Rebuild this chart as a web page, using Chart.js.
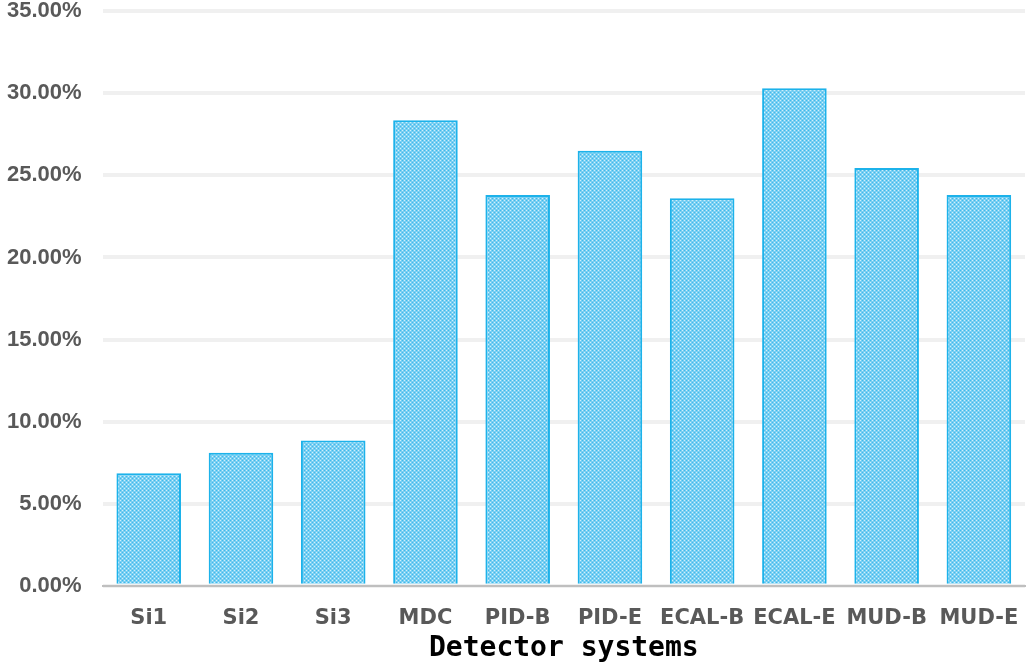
<!DOCTYPE html>
<html>
	<head>
		<title>Detector systems</title>
		<style type="text/css">
			body{ margin:0; background:#fff; overflow:hidden; }
			#chart-container{ width:1026px; height:663px; overflow:hidden; }
			#mycanvas{ margin-top:-4px; }
		</style>
	</head>
	<body>
		<script type="text/javascript" src="https://cdn.jsdelivr.net/npm/chart.js@4/dist/chart.umd.min.js"></script>

		<div id="chart-container">
			<canvas id="mycanvas" width="1026" height="667"></canvas>
		</div>

		<script type="text/javascript">
			var detectors=['Si1','Si2','Si3','MDC','PID-B','PID-E','ECAL-B','ECAL-E','MUD-B','MUD-E'];
			var fractions=[6.85, 8.1, 8.85, 28.35, 23.8, 26.5, 23.6, 30.3, 25.45, 23.8];
			var yTicks=[0,5,10,15,20,25,30,35];

			//small dotted fill, like the hatched bars of the original
			function makePattern(){
				var p=document.createElement('canvas');
				p.width=4; p.height=4;
				var c=p.getContext('2d');
				c.fillStyle='#7acff2';
				c.fillRect(0,0,4,4);
				c.fillStyle='#d0effc';
				c.fillRect(0,0,1,1);
				c.fillRect(2,2,1,1);
				c.fillStyle='#3dbaed';
				c.fillRect(2,0,1,1);
				c.fillRect(0,2,1,1);
				return c.createPattern(p,'repeat');
			}

			var ctx=document.getElementById('mycanvas');
			var barGraph=new Chart(ctx,{
				type:'bar',
				data:{
					labels:detectors,
					datasets:[{
						data:fractions,
						backgroundColor:makePattern(),
						borderColor:'#1cb2ea',
						borderWidth:2,
						barPercentage:0.70,
						categoryPercentage:1.0
					}]
				},
				options:{
					responsive:false,
					animation:false,
					layout:{ padding:{ top:0, right:1, left:5, bottom:0 } },
					plugins:{ legend:{ display:false }, tooltip:{ enabled:false } },
					scales:{
						x:{
							// invisible tick marks push the labels down without widening the side padding
							grid:{ display:false, drawTicks:true, tickLength:18, tickColor:'transparent' },
							border:{ display:true, color:'#bfbfbf', width:2 },
							ticks:{
								color:'#595959', padding:2, maxRotation:0, autoSkip:false,
								font:{ family:'DejaVu Sans', size:21, weight:'bold' }
							},
							title:{
								display:true, text:'Detector systems', color:'#000',
								padding:{ top:2, bottom:0 },
								font:{ family:'DejaVu Sans Mono', size:28, weight:'bold', lineHeight:1.0 }
							}
						},
						y:{
							min:0, max:35,
							afterBuildTicks:function(axis){
								axis.ticks=yTicks.map(function(v){ return {value:v}; });
							},
							grid:{ color:'#f0f0f0', lineWidth:4, drawTicks:true, tickLength:19, tickColor:'transparent' },
							border:{ display:false },
							ticks:{
								color:'#595959', padding:2,
								font:{ family:'Liberation Sans', size:22, weight:'bold' },
								callback:function(v){ return v.toFixed(2)+'%'; }
							}
						}
					}
				}
			});
		</script>
	</body>
</html>
